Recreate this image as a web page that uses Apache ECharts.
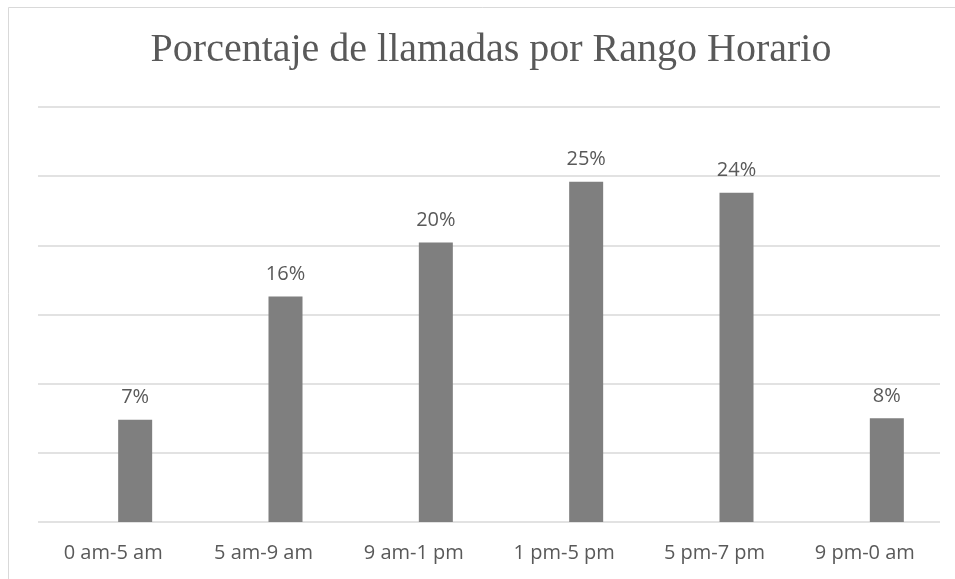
<!DOCTYPE html>
<html>
<head>
<meta charset="utf-8">
<title>Porcentaje de llamadas por Rango Horario</title>
<script src="https://cdn.jsdelivr.net/npm/echarts@6/dist/echarts.min.js"></script>
<style>
  html, body { margin: 0; padding: 0; background: #fff; }
  #chart { width: 955px; height: 579px; }
</style>
</head>
<body>
<div id="chart"></div>
<script>
// datos del gráfico
var rangos = ["0 am-5 am", "5 am-9 am", "9 am-1 pm", "1 pm-5 pm", "5 pm-7 pm", "9 pm-0 am"];
var porcentajes = [7.4, 16.3, 20.2, 24.6, 23.8, 7.5];
var ejeMin = 0;
var ejeMax = 30;
var ejeIntervalo = 5;

var myChart = echarts.init(document.getElementById("chart"));

var gris = "#595959";

var option = {
  backgroundColor: "#fff",
  animation: false,
  title: {
    text: "Porcentaje de llamadas por Rango Horario",
    left: 486,
    textAlign: "center",
    top: 25,
    textStyle: {
      fontFamily: "Liberation Serif",
      fontWeight: "normal",
      fontSize: 40,
      color: gris
    }
  },
  graphic: [
    {
      type: "rect",
      shape: { x: 8.5, y: 7.5, width: 1000, height: 700 },
      style: { fill: "none", stroke: "#d9d9d9", lineWidth: 1 },
      silent: true
    }
  ],
  grid: [
    // área de trazado: líneas de división y etiquetas
    { left: 38, right: 15, top: 107, height: 415, outerBoundsMode: "none" },
    // barras (desplazadas a la derecha como en el original)
    { left: 60, right: -7, top: 107, height: 415, outerBoundsMode: "none" }
  ],
  xAxis: [
    {
      type: "category",
      gridIndex: 0,
      data: rangos,
      axisLine: { show: false },
      axisTick: { show: false },
      axisLabel: {
        margin: 21,
        color: gris,
        fontSize: 20,
        fontFamily: "Open Sans"
      }
    },
    {
      type: "category",
      gridIndex: 1,
      data: rangos,
      show: false
    }
  ],
  yAxis: [
    {
      type: "value",
      gridIndex: 0,
      min: ejeMin,
      max: ejeMax,
      interval: ejeIntervalo,
      axisLine: { show: false },
      axisTick: { show: false },
      axisLabel: { show: false },
      splitLine: { lineStyle: { color: "#d9d9d9", width: 1.5 } }
    },
    {
      type: "value",
      gridIndex: 1,
      min: ejeMin,
      max: ejeMax,
      interval: ejeIntervalo,
      show: false,
      splitLine: { show: false }
    }
  ],
  series: [
    {
      type: "bar",
      xAxisIndex: 1,
      yAxisIndex: 1,
      data: porcentajes,
      barWidth: 34,
      itemStyle: { color: "#7f7f7f" },
      label: {
        show: true,
        position: "top",
        distance: 12,
        color: gris,
        fontSize: 20,
        fontFamily: "Open Sans",
        formatter: function (p) {
          return Math.round(p.value) + "%";
        }
      }
    }
  ]
};
myChart.setOption(option);
</script>
</body>
</html>
